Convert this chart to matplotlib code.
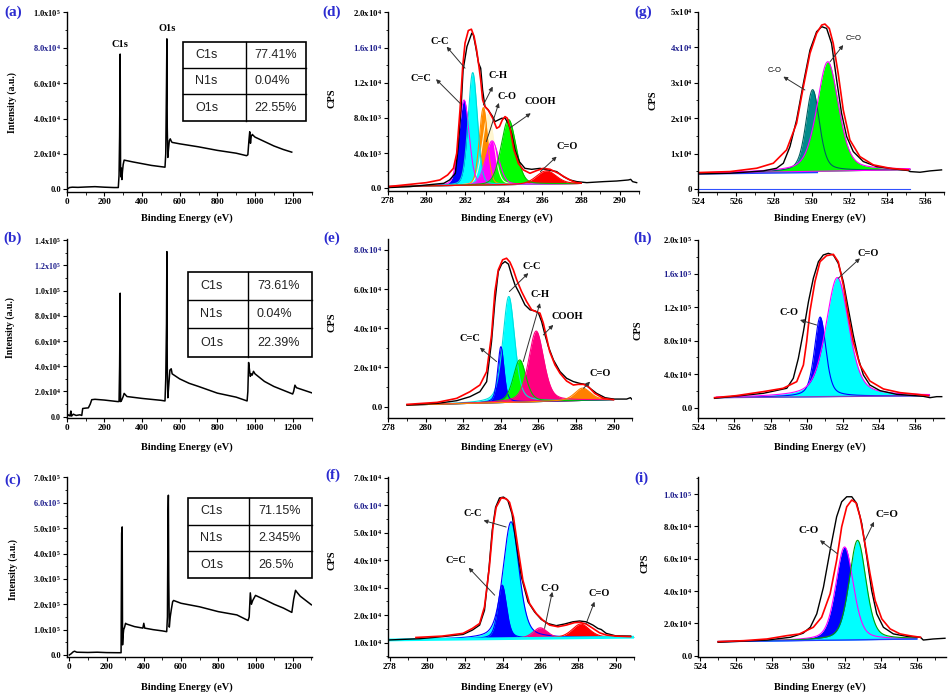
import numpy as np
import matplotlib
matplotlib.use("Agg")
import matplotlib.pyplot as plt
from matplotlib.patches import Rectangle
from matplotlib.ticker import AutoMinorLocator

plt.rcParams['font.family'] = ['Liberation Serif', 'DejaVu Serif']
plt.rcParams['font.weight'] = 'bold'
plt.rcParams['mathtext.default'] = 'regular'
plt.rcParams['axes.linewidth'] = 1.0

# ---------------- survey spectra (a)-(c) ----------------
sa_x = [0, 8, 15, 30, 60, 100, 150, 200, 250, 274,
        278, 281, 284, 286, 288, 290, 293, 296, 300, 305,
        350, 400, 450, 500, 522, 526, 530, 532, 534, 537,
        540, 545, 550, 556, 560, 600, 700, 800, 900, 955,
        962, 968, 972, 976, 980, 986, 990, 1000, 1050, 1100,
        1150, 1195]
sa_y = [0, 500, 1000, 1200, 1100, 1300, 1500, 1200, 1000, 1000,
        8000, 30000, 76400, 12000, 7000, 12000, 5500, 10000, 14000, 16500,
        15500, 14500, 13500, 12800, 12500, 20000, 60000, 85000, 35000, 18000,
        22000, 27500, 28500, 27000, 26500, 25700, 24000, 22000, 20400, 19000,
        19500, 28000, 32500, 26000, 30000, 31000, 30500, 29500, 27000, 24500,
        22500, 21000]

sb_x = [0, 10, 18, 22, 26, 35, 50, 70, 80, 85,
        100, 115, 125, 133, 150, 200, 270, 278, 281, 284,
        286, 290, 300, 305, 320, 400, 500, 522, 526, 530,
        532, 534, 537, 542, 548, 555, 560, 600, 650, 700,
        800, 900, 958, 962, 966, 970, 975, 980, 985, 992,
        1000, 1050, 1100, 1150, 1200, 1205, 1212, 1220, 1250, 1300]
sb_y = [0, 1500, 500, 4500, 500, 2000, 1000, 1500, 1000, 6500,
        6800, 7000, 10000, 13500, 13800, 13200, 12000, 12000, 40000, 98000,
        12000, 12500, 16000, 18500, 16000, 14500, 13000, 12500, 30000, 74000,
        131000, 40000, 15000, 25000, 37000, 38000, 34000, 30000, 26500, 24000,
        18700, 15500, 12500, 20000, 43000, 38000, 32000, 34000, 33000, 36000,
        34000, 28000, 24000, 21000, 18000, 20000, 25000, 23000, 21500, 19000]

sc_x = [0, 10, 20, 28, 40, 100, 150, 200, 260, 278,
        281, 284, 286, 288, 292, 297, 302, 308, 350, 395,
        400, 405, 450, 500, 523, 527, 530, 532, 534, 537,
        542, 548, 555, 560, 600, 700, 800, 900, 960, 966,
        972, 978, 985, 1000, 1050, 1100, 1150, 1195, 1205, 1215,
        1222, 1240, 1270, 1300]
sc_y = [0, 5000, 12000, 15000, 11000, 10000, 11000, 9500, 9000, 9000,
        480000, 505000, 40000, 70000, 100000, 110000, 125000, 122000, 112000, 106000,
        125000, 106000, 100000, 95000, 92000, 150000, 550000, 630000, 300000, 110000,
        150000, 180000, 210000, 215000, 204000, 190000, 171000, 158000, 136000, 150000,
        245000, 200000, 215000, 235000, 218000, 200000, 185000, 168000, 220000, 255000,
        248000, 232000, 215000, 198000]

table_rows = ['C1s', 'N1s', 'O1s']
table_a = ['77.41%', '0.04%', '22.55%']
table_b = ['73.61%', '0.04%', '22.39%']
table_c = ['71.15%', '2.345%', '26.5%']

# ---------------- C1s high resolution (d)-(f) ----------------
d_labels = ['', 'C-H', 'C=C', 'C-C', 'C-O', 'COOH', 'C=O']
d_center = [283.2, 282.95, 281.95, 282.4, 283.4, 284.25, 286.2]
d_height = [8000, 8800, 9700, 12800, 5000, 7400, 1500]
d_fwhm = [0.7, 0.5, 0.62, 0.56, 0.8, 0.9, 1.2]
d_red_x = [278, 280.0, 280.7, 281.1, 281.4, 281.57, 281.74, 281.88, 282.0, 282.17,
           282.33, 282.47, 282.6, 282.72, 282.81, 282.91, 283.03, 283.2, 283.43, 283.64,
           283.78, 283.93, 284.07, 284.19, 284.33, 284.53, 284.76, 285.02, 285.36, 285.7,
           286.05, 286.4, 286.83, 287.26, 287.6, 287.78, 288.0]
d_red_y = [190, 645, 950, 1520, 2270, 3980, 8900, 13840, 16500, 17930,
           18080, 17250, 15730, 13840, 12320, 10050, 9290, 8910, 7960, 6820,
           7010, 7770, 8150, 7960, 6820, 4360, 2840, 2090, 1710, 2010,
           2270, 2160, 1710, 1140, 760, 645, 600]
d_blk_x = [278, 279.15, 280, 280.9, 281.2, 281.5, 281.65, 281.8, 281.9, 282.1,
           282.35, 282.43, 282.55, 282.7, 282.81, 282.91, 283.03, 283.2, 283.43, 283.55,
           283.72, 283.9, 284.07, 284.24, 284.41, 284.59, 284.81, 285.1, 285.45, 285.88,
           286.31, 286.74, 287.09, 287.43, 287.78, 288.3, 289.16, 289.84, 290.45, 290.57,
           290.67, 290.88]
d_blk_y = [80, 190, 380, 570, 950, 1700, 4740, 9290, 13460, 16110,
           17630, 17440, 16110, 14220, 13650, 11180, 9290, 8900, 8150, 7580,
           7770, 7960, 7960, 7390, 6260, 4360, 3030, 2270, 2160, 2270,
           2090, 1900, 1330, 950, 760, 645, 760, 830, 950, 1020,
           760, 645]

e_labels = ['C-C', 'C=C', 'C-H', 'COOH', 'C=O']
e_center = [284.42, 284.0, 285.0, 285.88, 288.35]
e_height = [54000, 28500, 21500, 36000, 6300]
e_fwhm = [0.75, 0.4, 0.8, 0.95, 1.0]
e_red_x = [279.0, 280.6, 281.64, 282.35, 282.88, 283.24, 283.5, 283.68, 283.86, 284.09,
           284.3, 284.48, 284.66, 284.84, 285.1, 285.37, 285.64, 285.87, 286.08, 286.26,
           286.44, 286.6, 286.88, 287.15, 287.5, 287.86, 288.12, 288.4, 288.66, 289.0,
           289.46, 290.0]
e_red_y = [1190, 2210, 4260, 7660, 11060, 17870, 36600, 58700, 69800, 74900,
           75700, 73700, 69800, 64700, 58700, 53600, 49400, 48500, 47700, 42600,
           34900, 28100, 21300, 17000, 13100, 11060, 11400, 11400, 10200, 6800,
           4260, 3570]
e_blk_x = [279.0, 280.6, 281.64, 282.35, 282.88, 283.24, 283.5, 283.68, 283.86, 284.04,
           284.22, 284.4, 284.57, 284.75, 284.98, 285.28, 285.55, 285.82, 286.0, 286.17,
           286.35, 286.53, 286.8, 287.15, 287.5, 287.86, 288.2, 288.48, 288.75, 289.1,
           289.55, 290.0, 290.7, 290.9, 291.0]
e_blk_y = [850, 1700, 3060, 5100, 7660, 12770, 33200, 53600, 68900, 72700,
           74000, 72700, 67200, 62100, 57900, 51900, 49400, 48800, 47700, 43400,
           36600, 30600, 23800, 17900, 14500, 12800, 11900, 11400, 9360, 6800,
           4600, 3900, 3900, 4600, 3570]

f_labels = ['C-C', 'C=C', 'C-O', 'C=O']
f_center = [284.45, 283.98, 286.0, 288.15]
f_height = [42500, 19500, 3800, 5000]
f_fwhm = [1.0, 0.55, 0.9, 1.1]
f_red_x = [279.4, 280.8, 281.9, 282.4, 282.78, 283.04, 283.3, 283.49, 283.66, 283.93,
           284.19, 284.37, 284.58, 284.81, 285.08, 285.43, 285.79, 286.14, 286.5, 286.94,
           287.38, 287.82, 288.09, 288.44, 288.8, 289.15, 289.5, 290.0, 290.8]
f_red_y = [11900, 12400, 13400, 15200, 17000, 23100, 37600, 52100, 59300, 62700,
           62400, 61100, 55700, 44800, 32700, 24300, 20600, 18200, 16400, 15800,
           16400, 17300, 17400, 16800, 15200, 13600, 12800, 12400, 12200]
f_blk_x = [278.0, 279.6, 280.8, 281.9, 282.4, 282.78, 283.04, 283.27, 283.45, 283.63,
           283.84, 284.05, 284.28, 284.5, 284.73, 285.0, 285.35, 285.7, 286.05, 286.4,
           286.85, 287.29, 287.73, 288.09, 288.44, 288.8, 289.06, 289.24, 289.5, 290.0,
           290.8]
f_blk_y = [11000, 11450, 12200, 13000, 14600, 16400, 21800, 36400, 50900, 59300,
           62700, 63000, 61800, 56900, 46000, 33900, 24900, 21200, 18500, 17000,
           16200, 16800, 17600, 17900, 17600, 16400, 15200, 14800, 13400, 12500,
           12400]

# ---------------- O1s high resolution (g)-(i) ----------------
g_labels = ['C-O', 'C=O']
g_center = [530.05, 530.85]
g_height = [23000, 30800]
g_fwhm = [0.85, 1.35]
g_red_x = [524.0, 525.68, 527.09, 527.97, 528.67, 529.2, 529.56, 529.91, 530.26, 530.53,
           530.7, 530.93, 531.14, 531.4, 531.67, 532.02, 532.55, 533.26, 534.14, 535.1]
g_red_y = [4690, 4970, 5910, 7320, 11070, 18570, 28890, 38270, 43900, 46240,
           46520, 45300, 41080, 32640, 22320, 13880, 9190, 6850, 5910, 5440]
g_blk_x = [524.0, 525.68, 527.44, 528.14, 528.5, 528.85, 529.2, 529.56, 529.91, 530.26,
           530.53, 530.79, 531.05, 531.32, 531.58, 531.85, 532.2, 532.73, 533.44, 534.49,
           535.11, 535.2, 535.73, 536.26, 536.87]
g_blk_y = [4310, 4500, 5160, 5910, 7320, 12000, 19500, 29830, 39210, 44370,
           45780, 45300, 41080, 30770, 21390, 14820, 10600, 7790, 6380, 5630,
           5250, 4970, 4780, 5160, 5440]

h_labels = ['C-O', 'C=O']
h_center = [530.75, 531.7]
h_height = [95000, 142000]
h_fwhm = [0.75, 1.5]
h_red_x = [524.9, 526.1, 527.6, 528.7, 529.45, 529.82, 530.0, 530.18, 530.46, 530.74,
           531.1, 531.48, 531.75, 532.03, 532.3, 532.58, 532.95, 533.5, 534.25, 535.17,
           536.1, 536.74]
h_red_y = [11900, 14300, 19100, 23100, 31000, 50900, 78700, 114500, 150300, 174100,
           181300, 182900, 174100, 146300, 110500, 78700, 50900, 31800, 22300, 17900,
           15900, 14300]
h_blk_x = [524.9, 527.6, 528.9, 529.26, 529.54, 529.82, 530.1, 530.37, 530.65, 530.92,
           531.2, 531.48, 531.75, 532.03, 532.3, 532.58, 532.86, 533.14, 533.5, 534.06,
           534.98, 536.46, 536.83, 537.2, 537.48]
h_blk_y = [11100, 17100, 23100, 35000, 58800, 90700, 126400, 154300, 174100, 182100,
           184100, 182100, 172200, 150300, 118500, 86700, 58800, 39000, 27000, 20300,
           15900, 13500, 11900, 13100, 13100]

i_labels = ['C-O', 'C=O']
i_center = [532.0, 532.72]
i_height = [57500, 61500]
i_fwhm = [1.15, 1.1]
i_red_x = [525.0, 526.4, 527.7, 528.8, 529.5, 530.27, 530.73, 531.2, 531.56, 531.84,
           532.12, 532.4, 532.63, 532.86, 533.13, 533.41, 533.69, 534.06, 534.52, 535.07,
           535.6, 536.2]
i_red_y = [8700, 9300, 10350, 12400, 13460, 17600, 23800, 38300, 59000, 79700,
           92100, 96300, 94600, 85900, 69300, 50700, 34200, 22800, 16600, 13500,
           12400, 11400]
i_blk_x = [525.0, 527.7, 529.0, 529.7, 530.1, 530.46, 530.83, 531.2, 531.56, 531.84,
           532.12, 532.4, 532.67, 532.95, 533.23, 533.5, 533.78, 534.15, 534.7, 535.44,
           536.2, 536.36, 536.9, 537.56]
i_blk_y = [8300, 9700, 11400, 13900, 17600, 25900, 42400, 65200, 85900, 95200,
           98300, 98300, 94200, 81800, 61100, 40400, 25900, 17600, 13500, 12000,
           11400, 9700, 10350, 10800]

W, H = 949, 699
fig = plt.figure(figsize=(W / 100, H / 100), dpi=100)
NAVY = '#1c1c8c'
BLUE_LBL = '#2b2bd0'


def box(l, t, r, b):
    return fig.add_axes([l / W, 1 - b / H, (r - l) / W, (b - t) / H])


def sci(v, dec):
    if v == 0:
        return '0' if dec == 0 else '0.0'
    e = int(np.floor(np.log10(v) + 1e-9))
    return f'{v / 10 ** e:.{dec}f}x10$^{{{e}}}$'


def style(ax, xlim, ylim, xticks, yticks, dec, ysize, navy_idx):
    ax.set_xlim(*xlim)
    ax.set_ylim(*ylim)
    for s in ['top', 'right']:
        ax.spines[s].set_visible(False)
    ax.set_xticks(xticks)
    ax.set_xticklabels([str(t) for t in xticks], fontsize=6.6)
    ax.set_yticks(yticks)
    ax.set_yticklabels([sci(v, dec) for v in yticks], fontsize=ysize)
    ax.get_yticklabels()[navy_idx].set_color(NAVY)
    ax.xaxis.set_minor_locator(AutoMinorLocator(2))
    ax.yaxis.set_minor_locator(AutoMinorLocator(2))
    ax.tick_params(direction='out', length=3, width=0.8, pad=1.2)
    ax.tick_params(which='minor', direction='out', length=1.8, width=0.6)
    ax.patch.set_alpha(0)


def peak(x, c, h, w, eta):
    u = (x - c) / w
    return h * ((1 - eta) * np.exp(-4 * np.log(2) * u ** 2) + eta / (1 + 4 * u ** 2))


def components(ax, xr, base, centers, heights, widths, fills, edges, eta=0.3):
    x = np.linspace(xr[0], xr[1], 600)
    b = base[0] + (base[1] - base[0]) * (x - xr[0]) / (xr[1] - xr[0])
    for c, h, w, fc, ec in zip(centers, heights, widths, fills, edges):
        y = b + peak(x, c, h, w, eta)
        ax.fill_between(x, b, y, color=fc, lw=0)
        ax.plot(x, y, color=ec, lw=0.8)
    return x, b


def note(ax, text, tx, ty, head, tail, size=7.5, fam=None, weight='bold'):
    kw = {} if fam is None else {'family': fam}
    ax.text(tx, ty, text, fontsize=size, ha='center', va='center', weight=weight, **kw)
    ax.annotate('', xy=head, xytext=tail,
                arrowprops=dict(arrowstyle='-|>', color='#303030', lw=0.7,
                                mutation_scale=6, shrinkA=0, shrinkB=0))


# ---------- survey panels ----------
ax_a = box(66.7, 12.3, 311.5, 191.7)
ax_a.plot(sa_x, sa_y, color='k', lw=1.1)
style(ax_a, (0, 1300), (-1350, 100000), list(range(0, 1201, 200)),
      [0, 20000, 40000, 60000, 80000, 100000], 1, 6.0, 4)
ax_a.text(284, 80500, 'C1s', fontsize=7.5, ha='center')
ax_a.text(532, 89500, 'O1s', fontsize=7.5, ha='center')

ax_b = box(66.7, 239, 311.5, 417.7)
ax_b.plot(sb_x, sb_y, color='k', lw=1.1)
style(ax_b, (0, 1300), (-800, 141000), list(range(0, 1201, 200)),
      [0, 20000, 40000, 60000, 80000, 100000, 120000, 140000], 1, 5.8, 6)

ax_c = box(66.7, 476.7, 312.3, 656.7)
ax_c.plot(sc_x, sc_y, color='k', lw=1.1)
style(ax_c, (-14, 1305), (-6700, 703000), list(range(0, 1201, 200)),
      [0, 100000, 200000, 300000, 400000, 500000, 600000, 700000], 1, 6.0, 6)

# ---------- (d) ----------
ax_d = box(387.7, 11.7, 639, 190.7)
components(ax_d, (278, 288), (200, 550), d_center, d_height, d_fwhm,
           ['#fff6d0', '#ff8c00', '#0000ff', '#00ffff', '#ff00ff', '#00ff00', '#ff0000'],
           ['#fff6d0', '#ff8c00', '#ff00ff', '#00d8d8', '#ff00ff', '#00c000', '#ff0000'], eta=0.2)
ax_d.plot(d_blk_x, d_blk_y, color='k', lw=1.0)
ax_d.plot(d_red_x, d_red_y, color='red', lw=1.2)
style(ax_d, (278, 291), (-270, 20070), list(range(278, 291, 2)),
      [0, 4000, 8000, 12000, 16000, 20000], 1, 6.3, 4)
note(ax_d, 'C-C', 280.7, 16700, (281.05, 16100), (282.0, 13650))
note(ax_d, 'C=C', 279.7, 12500, (280.5, 12400), (281.74, 9670))
note(ax_d, 'C-H', 283.7, 12800, (283.43, 11560), (282.95, 9480))
note(ax_d, 'C-O', 284.15, 10400, (283.75, 9700), (283.1, 5300))
note(ax_d, 'COOH', 285.9, 9900, (285.4, 8530), (284.3, 6830))
note(ax_d, 'C=O', 287.26, 4740, (286.74, 3600), (285.9, 1900))

# ---------- (e) ----------
ax_e = box(388.3, 239, 632.3, 417.7)
components(ax_e, (279, 290), (850, 3600), e_center, e_height, e_fwhm,
           ['#00ffff', '#0000ff', '#00ff00', '#ff0080', '#ff8000'],
           ['#00e0e0', '#0000ff', '#00c000', '#ff0080', '#ff8000'], eta=0.4)
ax_e.plot(e_blk_x, e_blk_y, color='k', lw=1.0)
ax_e.plot(e_red_x, e_red_y, color='red', lw=1.2)
style(ax_e, (278, 291), (-5600, 85500), list(range(278, 291, 2)),
      [0, 20000, 40000, 60000, 80000], 1, 6.3, 4)
note(ax_e, 'C-C', 285.64, 71500, (285.46, 68100), (284.45, 58700))
note(ax_e, 'C-H', 286.08, 57000, (286.08, 52800), (285.19, 23000))
note(ax_e, 'COOH', 287.55, 46000, (286.79, 41700), (286.26, 36600))
note(ax_e, 'C=C', 282.35, 34900, (282.88, 30100), (283.77, 23000))
note(ax_e, 'C=O', 289.28, 17000, (288.75, 12800), (288.4, 9400))

# ---------- (f) ----------
ax_f = box(387.7, 477.3, 634.4, 656.7)
xf, bf = components(ax_f, (278, 291), (11000, 12000), f_center, f_height, f_fwhm,
                    ['#00ffff', '#0000ff', '#ff0080', '#ff0000'],
                    ['#0000ff', '#0000ff', '#ff0080', '#ff0000'], eta=0.4)
ax_f.plot(xf, bf, color='#00ffff', lw=2.0)
ax_f.plot(f_blk_x, f_blk_y, color='k', lw=1.0)
ax_f.plot(f_red_x, f_red_y, color='red', lw=1.2)
style(ax_f, (277.9, 291), (4900, 70200), list(range(278, 291, 2)),
      [10000, 20000, 30000, 40000, 50000, 60000, 70000], 1, 6.3, 5)
note(ax_f, 'C-C', 282.42, 56900, (282.99, 54500), (284.19, 52100))
note(ax_f, 'C=C', 281.54, 40000, (282.2, 37300), (283.58, 27300))
note(ax_f, 'C-O', 286.5, 29700, (286.64, 28500), (286.23, 15200))
note(ax_f, 'C=O', 289.15, 27900, (288.88, 24900), (288.44, 17000))

# ---------- (g) ----------
ax_g = box(698.3, 11.7, 944, 191.7)
xg, bg = components(ax_g, (524, 535.2), (4500, 5500), g_center, g_height, g_fwhm,
                    ['#008b8b', '#00ff00'], ['#006060', '#ff00ff'], eta=0.4)
ax_g.plot(xg, bg, color='#ff00ff', lw=0.8)
ax_g.plot([524, 530.3], [4300, 4700], color='#2040ff', lw=1.0)
ax_g.plot([524, 535.2], [0, 0], color='#3050ff', lw=0.8)
ax_g.plot(g_blk_x, g_blk_y, color='k', lw=1.0)
ax_g.plot(g_red_x, g_red_y, color='red', lw=1.2)
style(ax_g, (524, 537), (-700, 50000), list(range(524, 537, 2)),
      [0, 10000, 20000, 30000, 40000, 50000], 0, 6.3, 4)
note(ax_g, 'C-O', 528.06, 33400, (528.5, 31700), (529.64, 27950), size=5.5,
     fam='Liberation Sans', weight='normal')
note(ax_g, 'C=O', 532.2, 42500, (531.67, 40600), (530.97, 35900), size=5.5,
     fam='Liberation Sans', weight='normal')

# ---------- (h) ----------
ax_h = box(698.3, 240, 943.9, 417.7)
xh, bh = components(ax_h, (525, 536.8), (11900, 14300), h_center, h_height, h_fwhm,
                    ['#0000ff', '#00ffff'], ['#0000ff', '#ff00ff'], eta=0.45)
ax_h.plot(xh, bh, color='#8040c0', lw=1.0)
ax_h.plot(h_blk_x, h_blk_y, color='k', lw=1.0)
ax_h.plot(h_red_x, h_red_y, color='red', lw=1.2)
style(ax_h, (524, 537.6), (-12000, 200000), list(range(524, 537, 2)),
      [0, 40000, 80000, 120000, 160000, 200000], 1, 6.3, 4)
note(ax_h, 'C-O', 529.0, 113700, (529.63, 104600), (530.55, 98600))
note(ax_h, 'C=O', 533.42, 184100, (532.95, 178100), (531.75, 154300))

# ---------- (i) ----------
ax_i = box(698.3, 476.7, 945.7, 656.7)
xi, bi = components(ax_i, (525, 536), (8700, 10350), i_center, i_height, i_fwhm,
                    ['#0000ff', '#00ffff'], ['#ff00ff', '#00a000'], eta=0.35)
ax_i.plot(xi, bi, color='#2040ff', lw=1.0)
ax_i.plot(i_blk_x, i_blk_y, color='k', lw=1.0)
ax_i.plot(i_red_x, i_red_y, color='red', lw=1.2)
style(ax_i, (523.9, 537.6), (-600, 110700), list(range(524, 537, 2)),
      [0, 20000, 40000, 60000, 80000, 100000], 1, 6.3, 5)
note(ax_i, 'C-O', 530.0, 77200, (530.64, 71400), (531.6, 63100), size=8)
note(ax_i, 'C=O', 534.33, 87600, (533.63, 82800), (533.13, 71400), size=8)

# ---------- overlay: labels and tables ----------
ov = fig.add_axes([0, 0, 1, 1], zorder=10)
ov.set_xlim(0, W)
ov.set_ylim(H, 0)
ov.axis('off')

for lbl, x, y in [('(a)', 13, 12), ('(b)', 13, 238), ('(c)', 13, 480),
                  ('(d)', 332, 12), ('(e)', 332, 238), ('(f)', 333, 475),
                  ('(g)', 643, 12), ('(h)', 643, 238), ('(i)', 641, 478)]:
    ov.text(x, y, lbl, color=BLUE_LBL, fontsize=11, ha='center', va='center')

for x, y in [(187, 218), (187, 447), (187, 687), (507, 218), (507, 447), (507, 687),
             (820, 218), (820, 447), (820, 687)]:
    ov.text(x, y, 'Binding Energy (eV)', fontsize=7.5, ha='center', va='center')

for x, y in [(12, 103), (10, 328), (13, 570)]:
    ov.text(x, y, 'Intensity (a.u.)', fontsize=7, ha='center', va='center', rotation=90)
for x, y in [(332, 98), (332, 322), (332, 560), (653, 100), (638, 330), (645, 563)]:
    ov.text(x, y, 'CPS', fontsize=7.5, ha='center', va='center', rotation=90)


def table(x0, y0, x1, y1, xs, values):
    ov.add_patch(Rectangle((x0, y0), x1 - x0, y1 - y0, fill=False, lw=1.2, ec='k'))
    ov.plot([xs, xs], [y0, y1], color='k', lw=1.0)
    rh = (y1 - y0) / 3
    for k in (1, 2):
        ov.plot([x0, x1], [y0 + k * rh] * 2, color='k', lw=1.0)
    for k, (r, v) in enumerate(zip(table_rows, values)):
        yc = y0 + (k + 0.5) * rh
        ov.text(x0 + 12, yc, r, fontsize=9, family='Liberation Sans', weight='normal',
                va='center', color='#222222')
        ov.text(xs + 9, yc, v, fontsize=9, family='Liberation Sans', weight='normal',
                va='center', color='#222222')


table(183.3, 41.7, 306, 120.7, 245.7, table_a)
table(188, 271.7, 312, 356.7, 248, table_b)
table(188, 498, 312, 578, 249, table_c)

fig.savefig('out.png', dpi=100)
